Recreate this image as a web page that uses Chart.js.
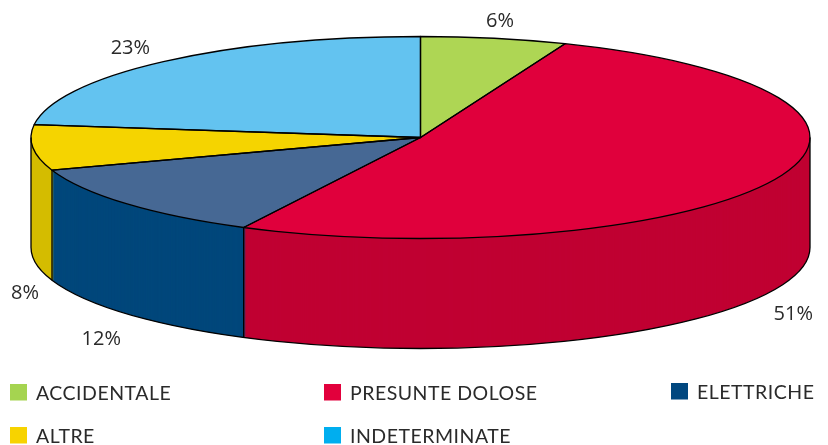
<!DOCTYPE html>
<html><head><meta charset="utf-8">
<style>html,body{margin:0;padding:0;background:#fff}#w{width:828px;height:445px}</style>
<script src="https://cdn.jsdelivr.net/npm/chart.js@4"></script>
</head><body><div id="w"><canvas id="c" width="828" height="445"></canvas></div>
<script>
const categories = ['ACCIDENTALE','PRESUNTE DOLOSE','ELETTRICHE','ALTRE','INDETERMINATE'];
const shares = [6.05,51.45,12.25,7.3,22.95];
const shareLabels = ['6%','51%','12%','8%','23%'];
const topColors = ['#AED654','#E0003C','#466894','#F5D400','#63C3F0'];
const sideColors = ['#94B848','#C00032','#00477B','#D4BC00','#4FA0C8'];
const legendColors = ['#A5D450','#E2003C','#00477F','#F7D300','#00AEEF'];

const view = {cx:420.5, cy:137.5, rx:389.5, ry:101, depth:110};
const labelOffsets = [[6,-17],[18,25],[-25,26],[-8,36],[-33,-13]];
const legendSlots = [[10,384],[324,384],[671,383],[10,427],[324,427]];
const ink = '#2a2a2a';

function squash(ctx, arc, dy){
  const R = arc.outerRadius;
  ctx.translate(view.cx, view.cy + (dy||0));
  ctx.scale(view.rx/R, view.ry/R);
  ctx.translate(-arc.x, -arc.y);
}
const pie3d = {
  id:'pie3d',
  beforeDatasetsDraw(chart){
    const ctx = chart.ctx, arcs = chart.getDatasetMeta(0).data;
    for(let d=view.depth; d>=1; d--){
      arcs.forEach((arc,i)=>{
        ctx.save(); squash(ctx,arc,d);
        ctx.beginPath(); ctx.moveTo(arc.x,arc.y);
        ctx.arc(arc.x,arc.y,arc.outerRadius,arc.startAngle,arc.endAngle);
        ctx.closePath(); ctx.fillStyle=sideColors[i]; ctx.fill();
        ctx.restore();
      });
    }
    ctx.save(); squash(ctx,arcs[0],0);
  },
  afterDatasetsDraw(chart){
    const ctx = chart.ctx, arcs = chart.getDatasetMeta(0).data;
    ctx.restore();
    ctx.strokeStyle='#000'; ctx.lineWidth=1.3; ctx.lineJoin='round';
    arcs.forEach(arc=>{
      ctx.save(); squash(ctx,arc,0);
      ctx.beginPath(); ctx.moveTo(arc.x,arc.y);
      ctx.arc(arc.x,arc.y,arc.outerRadius,arc.startAngle,arc.endAngle);
      ctx.closePath(); ctx.restore(); ctx.stroke();
    });
    ctx.beginPath();
    ctx.moveTo(view.cx+view.rx, view.cy);
    ctx.ellipse(view.cx, view.cy+view.depth, view.rx, view.ry, 0, 0, Math.PI);
    ctx.lineTo(view.cx-view.rx, view.cy);
    ctx.stroke();
    arcs.forEach(arc=>{
      const a = arc.endAngle;
      if(Math.sin(a) > 0){
        const x = view.cx+view.rx*Math.cos(a), y = view.cy+view.ry*Math.sin(a);
        ctx.beginPath(); ctx.moveTo(x,y); ctx.lineTo(x,y+view.depth); ctx.stroke();
      }
    });
    ctx.fillStyle=ink; ctx.font='20px "Open Sans"'; ctx.textAlign='center'; ctx.textBaseline='middle';
    arcs.forEach((arc,i)=>{
      const m=(arc.startAngle+arc.endAngle)/2, s=Math.sin(m);
      const x=view.cx+view.rx*Math.cos(m)+labelOffsets[i][0];
      const y=view.cy+view.ry*s+(s>0?view.depth:0)+labelOffsets[i][1];
      ctx.fillText(shareLabels[i],x,y);
    });
    ctx.textAlign='left'; ctx.textBaseline='alphabetic'; ctx.font='19.5px Lato'; ctx.letterSpacing='0.5px';
    categories.forEach((name,i)=>{
      const [x,y]=legendSlots[i];
      ctx.fillStyle=legendColors[i]; ctx.fillRect(x,y,17,16.5);
      ctx.fillStyle=ink; ctx.fillText(name,x+26,y+16);
    });
    ctx.letterSpacing='0px';
  }
};
new Chart(document.getElementById('c'),{
  type:'pie',
  data:{labels:categories,datasets:[{data:shares,backgroundColor:topColors,borderWidth:0,clip:false}]},
  options:{responsive:false,animation:false,rotation:0,
    plugins:{legend:{display:false},tooltip:{enabled:false}}},
  plugins:[pie3d]
});
</script></body></html>
